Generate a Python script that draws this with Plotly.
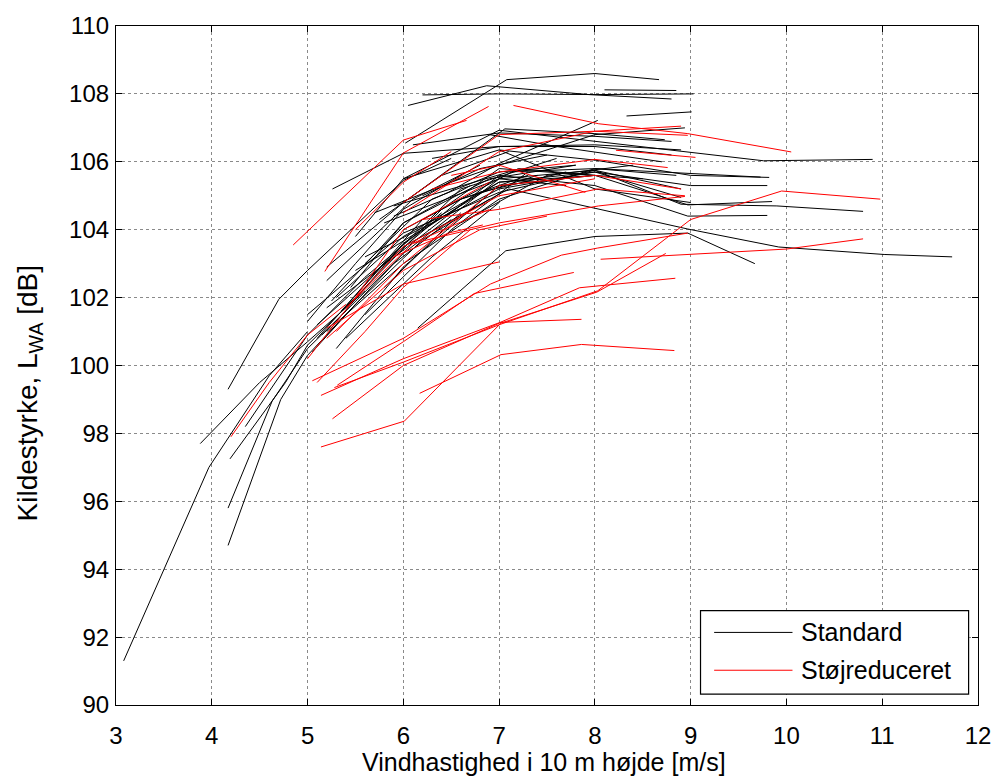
import plotly.graph_objects as go

# ---------------- data ----------------
# Standard turbines: each line = (wind speeds, source levels)
std_x = [
    [3.08, 3.97, 4.6, 5.0],
    [3.88, 4.5, 5.0, 5.6],
    [4.19, 4.77, 5.0, 5.5],
    [4.17, 4.63, 5.0, 5.4],
    [4.17, 4.72, 5.0, 5.3],
    [4.17, 4.7, 5.0, 6.0, 6.5],
    [5.26, 6.0, 7.0, 8.0, 8.9],
    [6.02, 7.08, 8.0, 8.67],
    [6.05, 6.87, 7.94, 8.8],
    [6.2, 7.0, 8.0, 9.03],
    [8.1, 8.85],
    [8.33, 9.01],
    [5.9, 6.47, 7.0, 8.03],
    [5.7, 6.5, 7.0, 8.0, 8.94],
    [5.2, 6.0, 7.06, 8.0, 8.73],
    [5.5, 6.0, 7.0, 8.04, 8.87, 9.76, 10.9],
    [6.1, 7.0, 8.0, 8.8],
    [6.3, 7.0, 8.0, 8.8],
    [6.0, 7.0, 8.0, 9.0, 9.82],
    [5.9, 7.1, 8.0, 9.0, 9.73],
    [5.8, 7.0, 8.0, 8.9],
    [5.6, 7.0, 8.0, 9.0, 9.8],
    [5.5, 7.0, 8.0, 8.9],
    [5.3, 6.0, 7.0, 8.0, 8.97, 9.85],
    [5.2, 6.0, 7.0, 8.0, 8.97, 9.8],
    [5.1, 6.0, 7.1, 7.97, 8.97, 9.92, 11.02, 11.73],
    [6.15, 7.07, 8.0, 8.97, 9.67],
    [5.0, 6.0, 7.0, 8.0, 8.9, 9.9, 10.8],
    [5.2, 6.0, 7.0, 8.0, 8.85],
    [5.3, 6.0, 7.0, 8.0],
    [5.15, 6.0, 7.0, 7.7],
    [5.35, 6.2, 7.2, 8.0],
    [5.5, 6.4, 7.0, 8.5],
    [5.6, 6.5, 7.3],
    [5.4, 6.3, 7.0],
    [6.6, 7.5, 8.4],
    [5.65, 6.6, 7.6],
    [5.8, 6.6],
    [6.0, 6.6, 7.4],
    [5.0, 5.5, 6.0, 6.6],
    [4.35, 5.0, 5.6, 6.4],
    [5.2, 6.1, 6.8],
    [6.9, 7.6, 8.7],
    [7.0, 8.0, 9.0],
    [5.25, 6.0, 6.9, 7.8],
    [5.1, 5.8, 6.6, 7.3],
    [5.3, 6.0, 6.8, 7.7],
    [5.45, 6.0, 6.7],
    [5.6, 6.3, 7.0, 7.8],
    [5.2, 5.9, 6.5],
    [5.05, 5.5, 6.2, 6.9],
    [6.2, 6.8, 7.5],
    [5.75, 6.4, 7.1],
]
std_y = [
    [91.3, 97.0, 99.7, 101.0],
    [97.7, 99.5, 100.7, 102.2],
    [97.25, 99.5, 100.6, 102.0],
    [95.8, 98.95, 100.5, 101.6],
    [94.7, 99.0, 100.3, 101.2],
    [99.3, 101.95, 102.8, 105.45, 106.1],
    [105.2, 106.25, 106.45, 106.5, 106.35],
    [106.55, 108.42, 108.6, 108.42],
    [107.66, 108.24, 107.98, 107.85],
    [107.97, 108.0, 107.98, 108.0],
    [108.12, 108.1],
    [107.35, 107.47],
    [104.4, 105.1, 105.95, 107.22],
    [104.5, 105.4, 105.9, 106.8, 107.0],
    [102.9, 104.8, 106.97, 106.83, 106.65],
    [103.8, 105.5, 106.93, 106.59, 106.34, 106.03, 106.07],
    [106.5, 106.85, 106.75, 106.6],
    [106.1, 106.45, 106.45, 106.2],
    [105.5, 106.35, 106.05, 105.6, 105.54],
    [104.7, 105.7, 105.8, 105.65, 105.55],
    [104.2, 105.5, 105.75, 105.2],
    [103.2, 105.2, 105.7, 105.3, 105.3],
    [102.8, 105.4, 105.7, 104.95],
    [102.0, 103.8, 105.4, 105.6, 104.73, 104.83],
    [101.7, 103.4, 105.6, 105.3, 104.4, 104.42],
    [101.2, 103.5, 105.2, 104.66, 104.02, 103.49, 103.27, 103.2],
    [101.1, 103.38, 103.8, 103.9, 103.0],
    [101.5, 103.9, 105.1, 105.75, 104.75, 104.7, 104.54],
    [101.0, 103.0, 104.9, 105.8, 105.6],
    [100.5, 102.9, 105.3, 105.6],
    [100.9, 103.3, 105.5, 105.3],
    [101.6, 104.3, 105.8, 105.6],
    [102.0, 104.6, 105.8, 105.5],
    [101.5, 104.0, 105.7],
    [100.8, 103.2, 104.8],
    [104.2, 105.6, 105.9],
    [102.6, 105.2, 106.1],
    [102.3, 104.5],
    [104.0, 104.9, 105.6],
    [101.3, 103.0, 104.6, 105.6],
    [98.2, 100.9, 102.6, 104.5],
    [102.5, 104.9, 105.9],
    [106.8, 106.45, 106.0],
    [106.35, 105.2, 104.8],
    [101.9, 104.2, 105.5, 105.9],
    [100.8, 103.0, 104.9, 105.6],
    [101.3, 103.6, 105.1, 105.7],
    [102.3, 104.2, 105.3],
    [103.0, 104.9, 105.7, 105.9],
    [100.9, 103.0, 104.3],
    [100.4, 101.8, 103.7, 104.9],
    [105.0, 105.8, 106.2],
    [104.3, 105.6, 106.3],
]

# Noise-reduced turbines
red_x = [
    [5.14, 6.01, 7.02, 8.02, 8.74],
    [6.17, 7.02, 7.86, 8.83],
    [5.26, 6.0, 7.02, 7.86],
    [5.14, 6.0, 7.02, 7.84, 8.84],
    [5.31, 6.0, 6.74, 7.78],
    [5.05, 6.0, 6.91, 7.65, 8.03, 8.97],
    [5.28, 6.0, 7.0, 8.03, 9.0, 9.95, 10.98],
    [8.06, 10.0, 10.8],
    [5.2, 6.0, 7.0],
    [4.85, 6.0, 6.66],
    [5.18, 6.0, 6.89],
    [7.15, 8.04, 8.97, 10.05],
    [6.0, 7.0, 8.0, 8.9],
    [6.0, 7.0, 8.0, 8.97],
    [8.22, 9.05],
    [6.3, 7.0, 8.0, 8.76],
    [6.2, 7.0, 8.03, 8.94],
    [6.1, 7.0, 8.04, 8.94],
    [5.9, 6.47, 6.83],
    [5.3, 6.0, 7.0, 8.0, 8.9],
    [5.5, 6.0, 7.0, 8.0],
    [5.2, 6.0, 6.8, 7.5],
    [5.4, 6.1, 6.9],
    [4.2, 4.6, 5.0, 5.4],
    [5.1, 5.6, 6.0, 6.7],
    [5.5, 6.0, 6.5],
    [5.0, 5.5, 6.0, 6.9],
    [6.5, 7.0, 7.9],
]
red_y = [
    [97.6, 98.36, 101.25, 102.16, 103.3],
    [99.18, 100.32, 100.62, 100.44],
    [98.43, 100.0, 101.27, 101.36],
    [99.12, 100.2, 101.28, 102.29, 102.57],
    [99.42, 100.7, 102.12, 102.74],
    [99.55, 100.8, 102.4, 103.25, 103.46, 103.9],
    [99.35, 100.1, 101.2, 102.2, 104.3, 105.14, 104.9],
    [103.13, 103.43, 103.73],
    [101.1, 102.4, 103.05],
    [103.55, 106.64, 107.22],
    [102.77, 106.26, 107.63],
    [107.66, 107.12, 106.83, 106.29],
    [104.5, 106.3, 106.9, 107.05],
    [104.8, 106.8, 106.9, 106.78],
    [106.34, 106.13],
    [105.2, 105.7, 106.07, 105.83],
    [104.3, 104.6, 105.2, 105.0],
    [103.6, 104.2, 104.7, 104.98],
    [103.2, 103.9, 104.14],
    [101.0, 103.0, 105.3, 105.6, 105.2],
    [102.0, 103.5, 105.0, 105.5],
    [100.8, 102.8, 104.0, 104.4],
    [101.7, 103.6, 104.6],
    [97.9, 99.5, 100.9, 101.8],
    [99.5, 101.0, 102.3, 104.0],
    [104.0, 105.4, 106.3],
    [100.2, 102.0, 104.0, 105.4],
    [105.6, 105.9, 105.1],
]

x_ticks = [3, 4, 5, 6, 7, 8, 9, 10, 11, 12]
y_ticks = [90, 92, 94, 96, 98, 100, 102, 104, 106, 108, 110]
series_names = ["Standard", "Støjreduceret"]
series_colors = ["#000000", "#ff0000"]
x_title = "Vindhastighed i 10 m højde [m/s]"
y_title = "Kildestyrke, L<sub>WA</sub> [dB]"


def joined(xs_list, ys_list):
    xs, ys = [], []
    for xs_i, ys_i in zip(xs_list, ys_list):
        xs += list(xs_i) + [None]
        ys += list(ys_i) + [None]
    return xs, ys


fig = go.Figure()
for name, color, xl, yl in [(series_names[0], series_colors[0], std_x, std_y),
                            (series_names[1], series_colors[1], red_x, red_y)]:
    xs, ys = joined(xl, yl)
    fig.add_trace(go.Scatter(x=xs, y=ys, mode="lines", name=name,
                             line=dict(color=color, width=1),
                             connectgaps=False, showlegend=False))

FONT = "Liberation Sans, Arial, sans-serif"
axis_common = dict(
    showline=True, linecolor="black", linewidth=1.2, mirror="allticks",
    ticks="inside", ticklen=6, tickcolor="black", tickwidth=1,
    showgrid=True, gridcolor="#8a8a8a", griddash="dot", gridwidth=1,
    zeroline=False, tickfont=dict(family=FONT, size=24, color="black"),
)

fig.update_xaxes(range=[3, 12], tickvals=x_ticks, ticklabelstandoff=9, **axis_common)
fig.update_yaxes(range=[90, 110], tickvals=y_ticks, ticklabelstandoff=1, **axis_common)

# legend drawn as a box with sample lines and real text
lx0, lx1, ly0, ly1 = 0.6781, 0.9891, 0.0161, 0.1391
shapes = [dict(type="rect", xref="paper", yref="paper", x0=lx0, x1=lx1, y0=ly0, y1=ly1,
               line=dict(color="black", width=1.2), fillcolor="white", layer="above")]
annotations = []
for i, (name, color) in enumerate(zip(series_names, series_colors)):
    yy = [0.1069, 0.0512][i]
    shapes.append(dict(type="line", xref="paper", yref="paper", x0=0.6939, x1=0.7848,
                       y0=yy, y1=yy, line=dict(color=color, width=1), layer="above"))
    annotations.append(dict(xref="paper", yref="paper", x=0.7925, y=yy, text=name,
                            showarrow=False, xanchor="left", yanchor="middle",
                            font=dict(family=FONT, size=25, color="black")))

# axis titles
annotations.append(dict(xref="paper", yref="paper", x=0.496, y=-0.0835, text=x_title,
                        showarrow=False, xanchor="center", yanchor="middle",
                        font=dict(family=FONT, size=25, color="black")))
annotations.append(dict(xref="paper", yref="paper", x=-0.1, y=0.46, text=y_title,
                        textangle=-90, showarrow=False, xanchor="center", yanchor="middle",
                        font=dict(family=FONT, size=28, color="black")))

fig.update_layout(
    width=1003, height=778,
    margin=dict(l=116, r=18, t=22, b=73),
    paper_bgcolor="white", plot_bgcolor="white",
    shapes=shapes, annotations=annotations,
    showlegend=False,
    font=dict(family=FONT, color="black"),
)

fig.write_html("out.html")
